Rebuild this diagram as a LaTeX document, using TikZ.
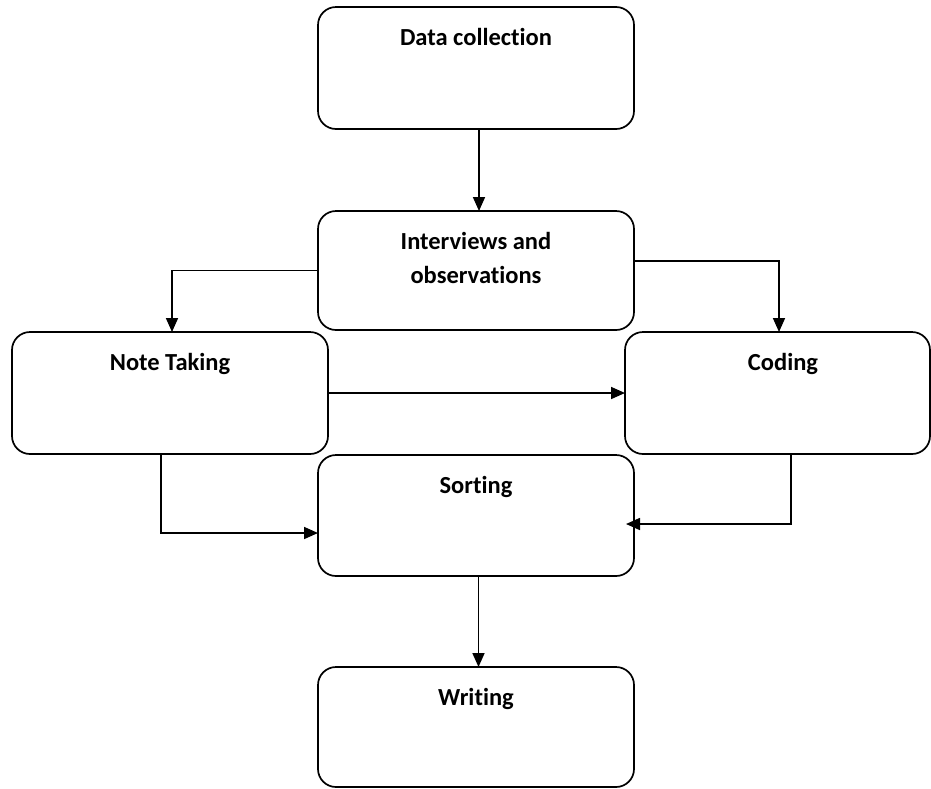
\documentclass[tikz,border=0pt]{standalone}
\usepackage{fontspec}
\setmainfont{Carlito}[Ligatures=NoCommon]
\usetikzlibrary{arrows.meta,calc}

\tikzset{
  box/.style={draw=black, line width=1.7pt, rounded corners=18pt, fill=white,
              inner sep=0pt, outer sep=0pt, minimum width=316pt},
  caption/.style={anchor=base, inner sep=0pt, align=center,
                  font=\fontsize{24.5}{34}\selectfont\bfseries},
  arr/.style={draw=black, line width=1.7pt,
              -{Triangle[length=14pt,width=12pt]}}
}

\begin{document}
\begin{tikzpicture}[x=1pt,y=-1pt]
  \useasboundingbox (0,0) rectangle (931,788);

  % process boxes
  \node[box, minimum height=122pt] (dc) at (476,68) {};
  \node[box, minimum height=119pt] (iv) at (476,270.5) {};
  \node[box, minimum height=122pt] (nt) at (170,393) {};
  \node[box, minimum height=122pt, minimum width=305pt] (cd) at (777.5,393) {};
  \node[box, minimum height=121pt] (so) at (476,515.5) {};
  \node[box, minimum height=120pt] (wr) at (476,727) {};

  % captions, set near the top of each box (base = last line's baseline)
  \node[caption] (dcT) at ($(dc.north)+(0,38)$) {Data collection};
  \node[caption] (ivT) at ($(iv.north)+(0,72)$)
       {Interviews and\\observations};
  \node[caption] (ntT) at ($(nt.north)+(0,38)$) {Note Taking};
  \node[caption] (cdT) at ($(cd.north)+(5.5,38)$) {Coding};
  \node[caption] (soT) at ($(so.north)+(0,38)$) {Sorting};
  \node[caption] (wrT) at ($(wr.north)+(0,38)$) {Writing};

  % connectors
  \draw[arr] ([xshift=3pt]dc.south) -- ([xshift=3pt]iv.north);
  \draw[arr] (iv.west) -| ([xshift=2pt]nt.north);
  \draw[arr] ([yshift=9.5pt]iv.east) -| ([xshift=1.5pt]cd.north);
  \draw[arr] (nt.east) -- (cd.west);
  \draw[arr] ([xshift=-9pt]nt.south) |- ([yshift=-17.5pt]so.west);
  \draw[arr, shorten >=-8pt] ([xshift=13.5pt]cd.south) |- ([yshift=-8.5pt]so.east);
  \draw[arr] ([xshift=2.5pt]so.south) -- ([xshift=2.5pt]wr.north);
\end{tikzpicture}
\end{document}
